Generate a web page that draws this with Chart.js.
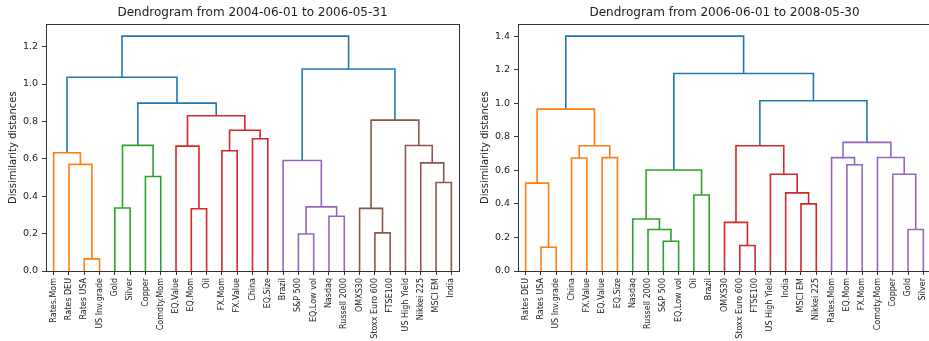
<!DOCTYPE html>
<html>
<head>
<meta charset="utf-8">
<script src="https://cdn.jsdelivr.net/npm/chart.js@4.4.1/dist/chart.umd.min.js"></script>
<style>
  html, body { margin: 0; padding: 0; background: #fff; overflow: hidden; width: 929px; height: 341px; position: relative; }
  .panel { position: absolute; top: 0; }
  #leftPanel { left: 0; }
  #rightPanel { left: 465px; }
</style>
</head>
<body>
<div class="panel" id="leftPanel"><canvas id="leftChart" width="465" height="341"></canvas></div>
<div class="panel" id="rightPanel"><canvas id="rightChart" width="480" height="341"></canvas></div>
<script>
// --- data: 2004-06-01 to 2006-05-31 ---
const leftLeaves = ['Rates.Mom', 'Rates DEU', 'Rates USA', 'US Inv.grade', 'Gold', 'Silver', 'Copper',
  'Comdty.Mom', 'EQ.Value', 'EQ.Mom', 'Oil', 'FX.Mom', 'FX.Value', 'China', 'EQ.Size', 'Brazil',
  'S&P 500', 'EQ.Low vol', 'Nasdaq', 'Russell 2000', 'OMXS30', 'Stoxx Euro 600', 'FTSE100',
  'US High Yield', 'Nikkei 225', 'MSCI EM', 'India'];
// merged node ids: < 27 is a leaf, 27 + k is merge k
const leftPairs = [[2, 3], [1, 27], [0, 28], [4, 5], [6, 7], [30, 31], [9, 10], [8, 33], [11, 12],
  [13, 14], [35, 36], [34, 37], [32, 38], [29, 39], [16, 17], [18, 19], [41, 42], [15, 43],
  [21, 22], [20, 45], [25, 26], [24, 47], [23, 48], [46, 49], [44, 50], [40, 51]];
const leftHeights = [0.065, 0.57, 0.632, 0.337, 0.505, 0.672, 0.333, 0.668, 0.643, 0.707, 0.753,
  0.83, 0.898, 1.036, 0.198, 0.293, 0.343, 0.591, 0.204, 0.335, 0.473, 0.578, 0.671, 0.807, 1.08, 1.256];
const leftColors = ['orange', 'orange', 'orange', 'green', 'green', 'green', 'red', 'red', 'red',
  'red', 'red', 'red', 'blue', 'blue', 'purple', 'purple', 'purple', 'purple', 'brown', 'brown',
  'brown', 'brown', 'brown', 'brown', 'blue', 'blue'];
const leftTicks = [0, 0.2, 0.4, 0.6, 0.8, 1.0, 1.2];

// --- data: 2006-06-01 to 2008-05-30 ---
const rightLeaves = ['Rates DEU', 'Rates USA', 'US Inv.grade', 'China', 'FX.Value', 'EQ.Value',
  'EQ.Size', 'Nasdaq', 'Russell 2000', 'S&P 500', 'EQ.Low vol', 'Oil', 'Brazil', 'OMXS30',
  'Stoxx Euro 600', 'FTSE100', 'US High Yield', 'India', 'MSCI EM', 'Nikkei 225', 'Rates.Mom',
  'EQ.Mom', 'FX.Mom', 'Comdty.Mom', 'Copper', 'Gold', 'Silver'];
const rightPairs = [[1, 2], [0, 27], [3, 4], [5, 6], [29, 30], [28, 31], [9, 10], [8, 33], [7, 34],
  [11, 12], [35, 36], [14, 15], [13, 38], [18, 19], [17, 40], [16, 41], [39, 42], [21, 22],
  [20, 44], [25, 26], [24, 46], [23, 47], [45, 48], [43, 49], [37, 50], [32, 51]];
const rightHeights = [0.142, 0.524, 0.674, 0.676, 0.747, 0.965, 0.177, 0.247, 0.31, 0.453, 0.602,
  0.152, 0.29, 0.40, 0.466, 0.577, 0.747, 0.633, 0.676, 0.247, 0.577, 0.677, 0.767, 1.015, 1.177, 1.40];
const rightColors = ['orange', 'orange', 'orange', 'orange', 'orange', 'orange', 'green', 'green',
  'green', 'green', 'green', 'red', 'red', 'red', 'red', 'red', 'red', 'purple', 'purple', 'purple',
  'purple', 'purple', 'purple', 'blue', 'blue', 'blue'];
const rightTicks = [0, 0.2, 0.4, 0.6, 0.8, 1.0, 1.2, 1.4];

const palette = {
  blue: '#1f77b4', orange: '#ff7f0e', green: '#2ca02c',
  red: '#d62728', purple: '#9467bd', brown: '#8c564b'
};
const FONT = 'DejaVu Sans';
const INK = '#222';

// each merge becomes one U-shaped line: leaf i sits at 10*i + 5 like scipy
function buildLinks(leaves, pairs, heights, colors) {
  const xs = leaves.map((_, i) => 10 * i + 5);
  const ys = leaves.map(() => 0);
  return pairs.map(([a, b], k) => {
    const h = heights[k];
    const data = [
      { x: xs[a], y: ys[a] }, { x: xs[a], y: h },
      { x: xs[b], y: h }, { x: xs[b], y: ys[b] }
    ];
    xs.push((xs[a] + xs[b]) / 2);
    ys.push(h);
    return {
      data: data,
      showLine: true,
      borderColor: palette[colors[k]],
      borderWidth: 1.6,
      pointRadius: 0,
      fill: false,
      tension: 0
    };
  });
}

// matplotlib style box around the axes
const framePlugin = {
  id: 'frame',
  afterDraw(chart) {
    const { ctx, chartArea: a } = chart;
    ctx.save();
    ctx.strokeStyle = '#333';
    ctx.lineWidth = 1;
    const l = Math.round(a.left) + 0.5, t = Math.round(a.top) + 0.5;
    const r = Math.round(a.right) + 0.5, b = Math.round(a.bottom) + 0.5;
    ctx.strokeRect(l, t, r - l, b - t);
    ctx.restore();
  }
};

function makeDendrogram(id, title, leaves, pairs, heights, colors, yTicks, yWidth, titlePad, rightPad) {
  const n = leaves.length;
  new Chart(document.getElementById(id), {
    type: 'scatter',
    data: { datasets: buildLinks(leaves, pairs, heights, colors) },
    options: {
      responsive: false,
      animation: false,
      events: [],
      layout: { padding: { left: 0, right: rightPad, top: 0, bottom: 0 } },
      plugins: {
        legend: { display: false },
        tooltip: { enabled: false },
        title: {
          display: true,
          fullSize: false, // center over the plot area, not the canvas
          text: title,
          color: INK,
          font: { family: FONT, size: 12, weight: 'normal' },
          padding: { top: 6, bottom: 4 }
        }
      },
      scales: {
        x: {
          type: 'linear',
          min: 0,
          max: 10 * n,
          afterBuildTicks: scale => { scale.ticks = leaves.map((_, i) => ({ value: 10 * i + 5 })); },
          afterFit: scale => { scale.height = 70; },
          grid: { display: true, drawOnChartArea: false, drawTicks: true, tickLength: 4, color: '#333' },
          border: { display: false },
          ticks: {
            autoSkip: false,
            minRotation: 90,
            maxRotation: 90,
            padding: 3,
            color: INK,
            font: { family: FONT, size: 8 },
            callback: (value, index) => leaves[index]
          }
        },
        y: {
          type: 'linear',
          min: 0,
          max: Math.max(...heights) * 1.05,
          afterBuildTicks: scale => { scale.ticks = yTicks.map(v => ({ value: v })); },
          afterFit: scale => { scale.width = yWidth; },
          grid: { display: true, drawOnChartArea: false, drawTicks: true, tickLength: 4, color: '#333' },
          border: { display: false },
          title: {
            display: true,
            text: 'Dissimilarity distances',
            color: INK,
            font: { family: FONT, size: 10 },
            padding: { top: titlePad, bottom: 0 }
          },
          ticks: {
            padding: 4,
            color: INK,
            font: { family: FONT, size: 9.5 },
            callback: v => v.toFixed(1)
          }
        }
      }
    },
    plugins: [framePlugin]
  });
}

makeDendrogram('leftChart', 'Dendrogram from 2004-06-01 to 2006-05-31',
  leftLeaves, leftPairs, leftHeights, leftColors, leftTicks, 46, 7, 6);
makeDendrogram('rightChart', 'Dendrogram from 2006-06-01 to 2008-05-30',
  rightLeaves, rightPairs, rightHeights, rightColors, rightTicks, 53, 14, 14);
</script>
</body>
</html>
